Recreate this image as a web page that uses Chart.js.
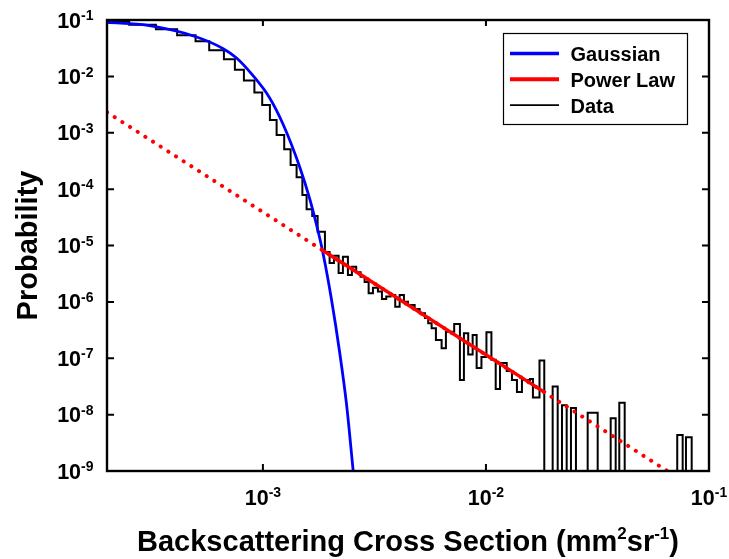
<!DOCTYPE html>
<html>
<head>
<meta charset="utf-8">
<title>Backscattering Cross Section</title>
<script src="https://cdn.jsdelivr.net/npm/chart.js@4.4.1/dist/chart.umd.min.js"></script>
<style>
	html, body { margin: 0; padding: 0; background: #ffffff; }
	#content { width: 729px; height: 559px; position: relative; }
</style>
</head>
<body>
<div id="content"><canvas id="chart"></canvas></div>
<script>
// Histogram: left edge of each bin and its probability (0 = empty bin)
const binEdges = [
	2.00e-4, 2.515e-4, 3.313e-4, 4.126e-4, 4.99e-4, 5.745e-4, 6.686e-4, 7.488e-4, 8.219e-4, 9.159e-4,
	9.928e-4, 1.075e-3, 1.152e-3, 1.246e-3, 1.331e-3, 1.416e-3, 1.503e-3, 1.570e-3, 1.664e-3, 1.759e-3,
	1.897e-3, 1.991e-3, 2.082e-3, 2.185e-3, 2.284e-3, 2.405e-3, 2.506e-3, 2.620e-3, 2.742e-3, 2.858e-3,
	2.979e-3, 3.114e-3, 3.279e-3, 3.417e-3, 3.572e-3, 3.738e-3, 3.920e-3, 4.102e-3, 4.288e-3, 4.469e-3,
	4.790e-3, 5.043e-3, 5.327e-3, 5.511e-3, 5.707e-3, 5.966e-3, 6.327e-3, 6.614e-3, 6.894e-3, 7.205e-3,
	7.643e-3, 7.965e-3, 8.327e-3, 8.716e-3, 9.084e-3, 9.545e-3, 1.005e-2, 1.058e-2, 1.106e-2, 1.156e-2,
	1.239e-2, 1.308e-2, 1.377e-2, 1.450e-2, 1.575e-2, 1.624e-2, 1.738e-2, 1.826e-2, 1.991e-2, 2.097e-2,
	2.192e-2, 2.301e-2, 2.405e-2, 2.532e-2, 2.858e-2, 3.010e-2, 3.169e-2, 3.624e-2, 3.816e-2, 3.961e-2,
	4.188e-2, 7.205e-2, 7.620e-2, 7.884e-2, 8.363e-2
];
const binLastEdge = 1e-1;
const binProbability = [
	9.41e-2, 8.25e-2, 6.84e-2, 5.35e-2, 4.19e-2, 2.90e-2, 2.01e-2, 1.313e-2, 8.45e-3, 5.18e-3,
	3.11e-3, 1.68e-3, 9.12e-4, 5.09e-4, 2.68e-4, 1.62e-4, 7.86e-5, 4.39e-5, 3.34e-5, 1.76e-5,
	7.66e-6, 4.89e-6, 6.59e-6, 3.25e-6, 6.33e-6, 3.00e-6, 4.21e-6, 3.35e-6, 2.80e-6, 2.25e-6,
	1.42e-6, 1.78e-6, 1.52e-6, 1.12e-6, 1.24e-6, 1.32e-6, 8.21e-7, 1.32e-6, 1.01e-6, 8.81e-7,
	7.47e-7, 6.27e-7, 5.18e-7, 4.17e-7, 3.40e-7, 2.11e-7, 1.50e-7, 2.96e-7, 2.96e-7, 4.05e-7,
	4.11e-8, 2.77e-7, 1.165e-7, 2.58e-7, 6.72e-8, 1.05e-7, 2.90e-7, 9.42e-8, 2.85e-8, 8.23e-8,
	5.94e-8, 4.11e-8, 2.52e-8, 4.11e-8, 4.29e-8, 2.01e-8, 9.12e-8, 0, 3.15e-8, 0,
	1.46e-8, 0, 1.31e-8, 0, 1.08e-8, 1.08e-8, 0, 8.61e-9, 0, 1.63e-8,
	0, 4.35e-9, 0, 3.96e-9, 0
];

// Gaussian fit, points
const gaussianX = [2.0e-4, 3.05e-4, 5.04e-4, 6.64e-4, 7.62e-4, 9.05e-4, 1.069e-3, 1.233e-3,
	1.466e-3, 1.625e-3, 1.770e-3, 1.864e-3, 2.03e-3, 2.21e-3, 2.37e-3, 2.54e-3];
const gaussianY = [0.0906, 0.080, 0.050, 0.031, 0.0212, 0.0102, 4.23e-3, 1.40e-3,
	2.4e-4, 6.5e-5, 1.75e-5, 7.0e-6, 1.1e-6, 1.25e-7, 1.55e-8, 1.0e-9];

// Power law: full extrapolated line (dotted) and fitted range (solid)
const powerLawX = [2.0e-4, 6.5e-2];
const powerLawY = [2.31e-3, 1.0e-9];
const powerLawFitX = [1.85e-3, 1.85e-2];
const powerLawFitY = [8.26e-6, 2.43e-8];

const xRange = [2e-4, 1e-1];
const yRange = [1e-9, 1e-1];
const xTicks = [1e-3, 1e-2, 1e-1];
const xTickExponents = ["-3", "-2", "-1"];
const yTicks = [1e-1, 1e-2, 1e-3, 1e-4, 1e-5, 1e-6, 1e-7, 1e-8, 1e-9];
const yTickExponents = ["-1", "-2", "-3", "-4", "-5", "-6", "-7", "-8", "-9"];
const legendLabels = ["Gaussian", "Power Law", "Data"];

const fontFamily = "\"Liberation Sans\", Arial, sans-serif";

function toPoints(xs, ys) {
	return xs.map((x, i) => ({ x: x, y: ys[i] }));
}

function histogramPoints() {
	const floor = v => (v > 0 ? v : yRange[0]);
	const points = binEdges.map((x, i) => ({ x: x, y: floor(binProbability[i]) }));
	points.push({ x: binLastEdge, y: floor(binProbability[binProbability.length - 1]) });
	return points;
}

// draws "base" with a raised exponent; align is "right" or "center"
function drawPower(ctx, base, exponent, x, y, align, baseSize, expSize, rise) {
	ctx.font = `bold ${baseSize}px ${fontFamily}`;
	const w1 = ctx.measureText(base).width;
	ctx.font = `bold ${expSize}px ${fontFamily}`;
	const w2 = ctx.measureText(exponent).width;
	const left = align === "right" ? x - w1 - w2 : x - (w1 + w2) / 2;
	ctx.textAlign = "left";
	ctx.font = `bold ${baseSize}px ${fontFamily}`;
	ctx.fillText(base, left, y);
	ctx.font = `bold ${expSize}px ${fontFamily}`;
	ctx.fillText(exponent, left + w1, y - rise);
}

function drawRichText(ctx, parts, centerX, baseline) {
	let total = 0;
	const widths = parts.map(part => {
		ctx.font = `bold ${part.size}px ${fontFamily}`;
		const w = ctx.measureText(part.text).width;
		total += w;
		return w;
	});
	let x = centerX - total / 2;
	ctx.textAlign = "left";
	parts.forEach((part, i) => {
		ctx.font = `bold ${part.size}px ${fontFamily}`;
		ctx.fillText(part.text, x, baseline - (part.rise || 0));
		x += widths[i];
	});
}

const framePlugin = {
	id: "frame",
	afterDraw(chart) {
		const ctx = chart.ctx;
		const area = chart.chartArea;
		const xScale = chart.scales.x;
		const yScale = chart.scales.y;
		ctx.save();
		ctx.strokeStyle = "#000000";
		ctx.fillStyle = "#000000";
		ctx.lineWidth = 2.4;
		ctx.strokeRect(area.left, area.top, area.right - area.left, area.bottom - area.top);

		// inward tick marks on all four sides
		ctx.beginPath();
		xTicks.forEach(v => {
			const x = xScale.getPixelForValue(v);
			ctx.moveTo(x, area.bottom);
			ctx.lineTo(x, area.bottom - 7);
			ctx.moveTo(x, area.top);
			ctx.lineTo(x, area.top + 6);
		});
		yTicks.forEach(v => {
			const y = yScale.getPixelForValue(v);
			ctx.moveTo(area.left, y);
			ctx.lineTo(area.left + 7, y);
			ctx.moveTo(area.right, y);
			ctx.lineTo(area.right - 7, y);
		});
		ctx.lineWidth = 2;
		ctx.stroke();

		// tick labels
		ctx.textBaseline = "alphabetic";
		xTicks.forEach((v, i) => {
			const x = xScale.getPixelForValue(v);
			drawPower(ctx, "10", xTickExponents[i], x, area.bottom + 33.5, "center", 21.5, 14, 8);
		});
		yTicks.forEach((v, i) => {
			const y = yScale.getPixelForValue(v);
			drawPower(ctx, "10", yTickExponents[i], area.left - 13.5, y + 7.6, "right", 21.5, 14, 7.4);
		});

		// axis titles
		drawRichText(ctx, [
			{ text: "Backscattering Cross Section (mm", size: 29 },
			{ text: "2", size: 17, rise: 12 },
			{ text: "sr", size: 29 },
			{ text: "-1", size: 17, rise: 12 },
			{ text: ")", size: 29 }
		], (area.left + area.right) / 2, 551);
		ctx.save();
		ctx.translate(37, (area.top + area.bottom) / 2);
		ctx.rotate(-Math.PI / 2);
		ctx.textAlign = "center";
		ctx.font = `bold 29px ${fontFamily}`;
		ctx.fillText("Probability", 0, 0);
		ctx.restore();

		// legend box
		const boxLeft = 503.5;
		const boxTop = 33.5;
		ctx.fillStyle = "#ffffff";
		ctx.fillRect(boxLeft, boxTop, 184, 91);
		ctx.lineWidth = 1.2;
		ctx.strokeStyle = "#000000";
		ctx.strokeRect(boxLeft, boxTop, 184, 91);
		legendLabels.forEach((label, i) => {
			const dataset = chart.data.datasets.find(d => d.label === label);
			const y = boxTop + 20 + i * 25.8;
			ctx.beginPath();
			ctx.setLineDash([]);
			ctx.strokeStyle = dataset.borderColor;
			ctx.lineWidth = dataset.legendWidth;
			ctx.moveTo(boxLeft + 6.5, y);
			ctx.lineTo(boxLeft + 55.5, y);
			ctx.stroke();
			ctx.fillStyle = "#000000";
			ctx.textAlign = "left";
			ctx.font = `bold 20px ${fontFamily}`;
			ctx.fillText(label, boxLeft + 67, y + 7.5);
		});
		ctx.restore();
	}
};

function drawChart() {
	const canvas = document.getElementById("chart");
	const context = canvas.getContext("2d");
	const datasets = [
		{
			label: "Power Law",
			data: toPoints(powerLawFitX, powerLawFitY),
			borderColor: "#ff0000",
			borderWidth: 3.5,
			legendWidth: 4
		},
		{
			label: "Power Law extrapolated",
			data: toPoints(powerLawX, powerLawY),
			borderColor: "#ff0000",
			borderWidth: 4,
			borderDash: [0.1, 9],
			borderCapStyle: "round"
		},
		{
			label: "Gaussian",
			data: toPoints(gaussianX, gaussianY),
			borderColor: "#0000ff",
			borderWidth: 2.8,
			cubicInterpolationMode: "monotone",
			legendWidth: 3.5
		},
		{
			label: "Data",
			data: histogramPoints(),
			borderColor: "#000000",
			borderWidth: 2,
			stepped: true,
			legendWidth: 1.6
		}
	];
	const options = {
		type: "line",
		data: {
			datasets: datasets
		},
		options: {
			responsive: true,
			maintainAspectRatio: false,
			animation: false,
			devicePixelRatio: 1,
			events: [],
			layout: {
				padding: { top: 20, right: 20, left: 0, bottom: 0 }
			},
			elements: {
				point: { radius: 0 }
			},
			plugins: {
				legend: { display: false },
				tooltip: { enabled: false }
			},
			scales: {
				x: {
					type: "logarithmic",
					min: xRange[0],
					max: xRange[1],
					grid: { display: false },
					border: { display: false },
					ticks: { display: false },
					afterFit: scale => { scale.height = 88; }
				},
				y: {
					type: "logarithmic",
					min: yRange[0],
					max: yRange[1],
					grid: { display: false },
					border: { display: false },
					ticks: { display: false },
					afterFit: scale => { scale.width = 107; }
				}
			}
		},
		plugins: [framePlugin]
	};
	return new Chart(context, options);
}

document.addEventListener("DOMContentLoaded", _ => {
	drawChart();
});
</script>
</body>
</html>
